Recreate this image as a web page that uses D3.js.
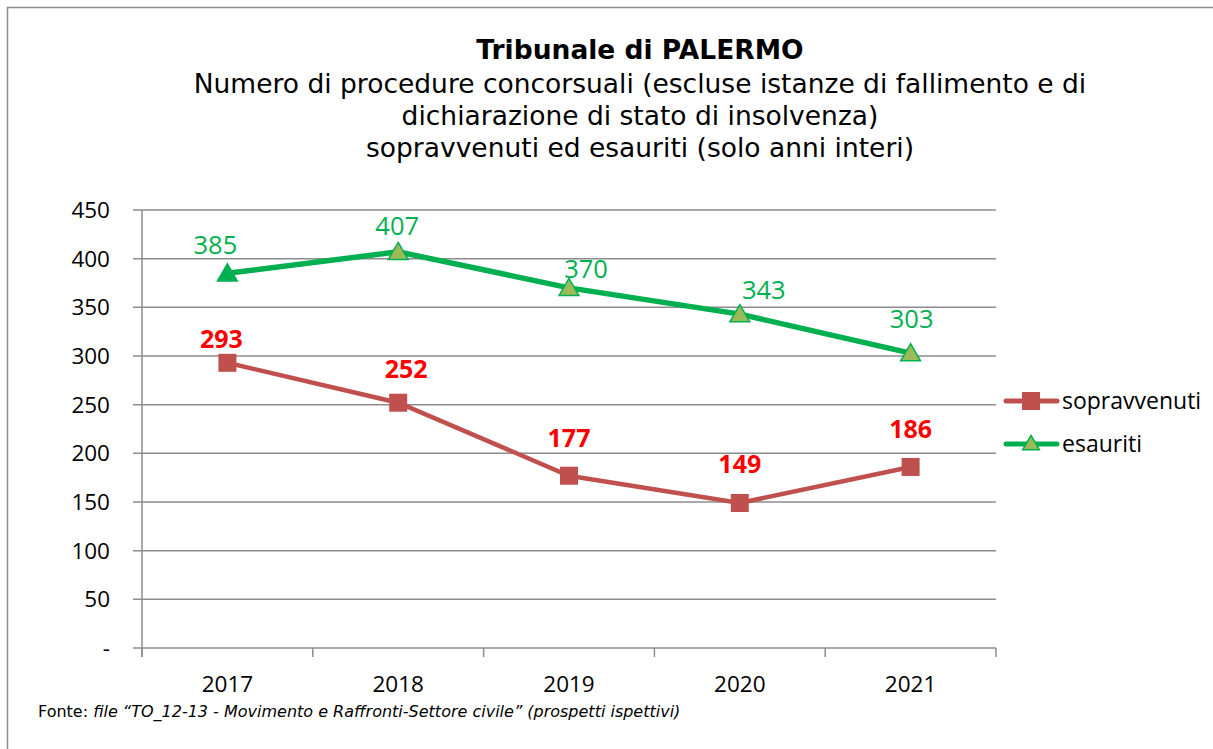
<!DOCTYPE html>
<html><head><meta charset="utf-8">
<script src="https://cdn.jsdelivr.net/npm/d3@7"></script>
<style>body{margin:0;background:#fff}svg{display:block}</style>
</head><body>
<script>
const years = ["2017","2018","2019","2020","2021"];
const sopravvenuti = [293,252,177,149,186];
const esauriti = [385,407,370,343,303];
const yTicks = [0,50,100,150,200,250,300,350,400,450];
const titleLines = ["Numero di procedure concorsuali (escluse istanze di fallimento e di","dichiarazione di stato di insolvenza)","sopravvenuti ed esauriti (solo anni interi)"];

const W=1213,H=749;
const svg=d3.select("body").append("svg").attr("width",W).attr("height",H);
svg.append("rect").attr("x",7.5).attr("y",7.5).attr("width",W+10).attr("height",H+10).attr("fill","#fff").attr("stroke","#8c8c8c").attr("stroke-width",1.5);

const x=d3.scaleBand().domain(years).range([142,996]);
const y=d3.scaleLinear().domain([0,450]).range([648,210]);

svg.append("g").selectAll("line").data(yTicks).join("line")
 .attr("x1",133).attr("x2",996).attr("y1",d=>y(d)).attr("y2",d=>y(d))
 .attr("stroke","#8c8c8c").attr("stroke-width",1.5);
svg.append("line").attr("x1",142).attr("x2",142).attr("y1",210).attr("y2",657).attr("stroke","#8c8c8c").attr("stroke-width",1.5);
const bounds=years.map(d=>x(d)).concat([996]);
svg.append("g").selectAll("line").data(bounds).join("line")
 .attr("x1",d=>d).attr("x2",d=>d).attr("y1",648).attr("y2",657).attr("stroke","#8c8c8c").attr("stroke-width",1.5);

const fCal="'Open Sans','Liberation Sans',sans-serif";
svg.append("g").selectAll("text").data(yTicks).join("text")
 .attr("x",110).attr("y",d=>y(d)).attr("dy","0.35em").attr("text-anchor","end")
 .style("font-family",fCal).style("font-size","22.5px").attr("fill","#000")
 .text(d=>d===0?"-":d);
svg.append("g").selectAll("text").data(years).join("text")
 .attr("x",d=>x(d)+x.bandwidth()/2).attr("y",684).attr("dy","0.35em").attr("text-anchor","middle")
 .style("font-family",fCal).style("font-size","22.5px").attr("fill","#000").text(d=>d);

const fT="'DejaVu Sans',Verdana,sans-serif";
svg.append("text").attr("x",640).attr("y",59).attr("text-anchor","middle").style("font-family",fT).style("font-weight","bold").style("font-size","26.5px").text("Tribunale di PALERMO");
svg.append("g").selectAll("text").data(titleLines).join("text")
 .attr("x",640).attr("y",(d,i)=>93+i*32).attr("text-anchor","middle").style("font-family",fT).style("font-size","26.5px").text(d=>d);

const cx=(d,i)=>x(years[i])+x.bandwidth()/2;
const line=d3.line().x((d,i)=>cx(d,i)).y(d=>y(d));
const red="#C0504D", green="#00B050", olive="#9BBB59";
svg.append("path").datum(sopravvenuti).attr("d",line).attr("fill","none").attr("stroke",red).attr("stroke-width",4.5);
svg.append("path").datum(esauriti).attr("d",line).attr("fill","none").attr("stroke",green).attr("stroke-width",5.5);

svg.append("g").selectAll("rect").data(sopravvenuti).join("rect")
 .attr("x",(d,i)=>cx(d,i)-9).attr("y",d=>y(d)-9).attr("width",18).attr("height",18).attr("fill",red);
const tri=d3.symbol().type(d3.symbolTriangle).size(170);
svg.append("g").selectAll("path").data(esauriti).join("path")
 .attr("transform",(d,i)=>`translate(${cx(d,i)},${y(d)+2})`).attr("d",tri)
 .attr("fill",(d,i)=>i===0?green:olive).attr("stroke",green).attr("stroke-width",1.5);

const gOff=[[-12,-19],[-1,-17],[17,-10],[24,-15],[1,-25]];
const rOff=[[-6,-15],[8,-25],[0,-29],[0,-30],[0,-29]];
svg.append("g").selectAll("text").data(esauriti).join("text")
 .attr("x",(d,i)=>cx(d,i)+gOff[i][0]).attr("y",(d,i)=>y(d)+gOff[i][1]).attr("text-anchor","middle")
 .style("font-family",fCal).style("font-size","25.5px").attr("fill",green).text(d=>d);
svg.append("g").selectAll("text").data(sopravvenuti).join("text")
 .attr("x",(d,i)=>cx(d,i)+rOff[i][0]).attr("y",(d,i)=>y(d)+rOff[i][1]).attr("text-anchor","middle")
 .style("font-family",fCal).style("font-weight","bold").style("font-size","25px").attr("fill","#FF0000").text(d=>d);

const lg=[{n:"sopravvenuti",c:red,m:"sq"},{n:"esauriti",c:green,m:"tri"}];
lg.forEach((l,i)=>{
  const ly=401+i*43;
  svg.append("line").attr("x1",1006).attr("x2",1057).attr("y1",ly).attr("y2",ly).attr("stroke",l.c).attr("stroke-width",5).attr("stroke-linecap","round");
  if(l.m==="sq") svg.append("rect").attr("x",1022).attr("y",ly-9).attr("width",18).attr("height",18).attr("fill",red);
  else svg.append("path").attr("transform",`translate(1031,${ly+1})`).attr("d",d3.symbol().type(d3.symbolTriangle).size(120)).attr("fill",olive).attr("stroke",green).attr("stroke-width",1.5);
  svg.append("text").attr("x",1062).attr("y",ly).attr("dy","0.35em").style("font-family",fCal).style("font-size","23px").text(l.n);
});

const fn=svg.append("text").attr("x",38).attr("y",717).style("font-family",fT).style("font-size","16px").attr("fill","#000");
fn.append("tspan").text("Fonte: ");
fn.append("tspan").style("font-style","italic").text("file “TO_12-13 - Movimento e Raffronti-Settore civile” (prospetti ispettivi)");
</script>
</body></html>
